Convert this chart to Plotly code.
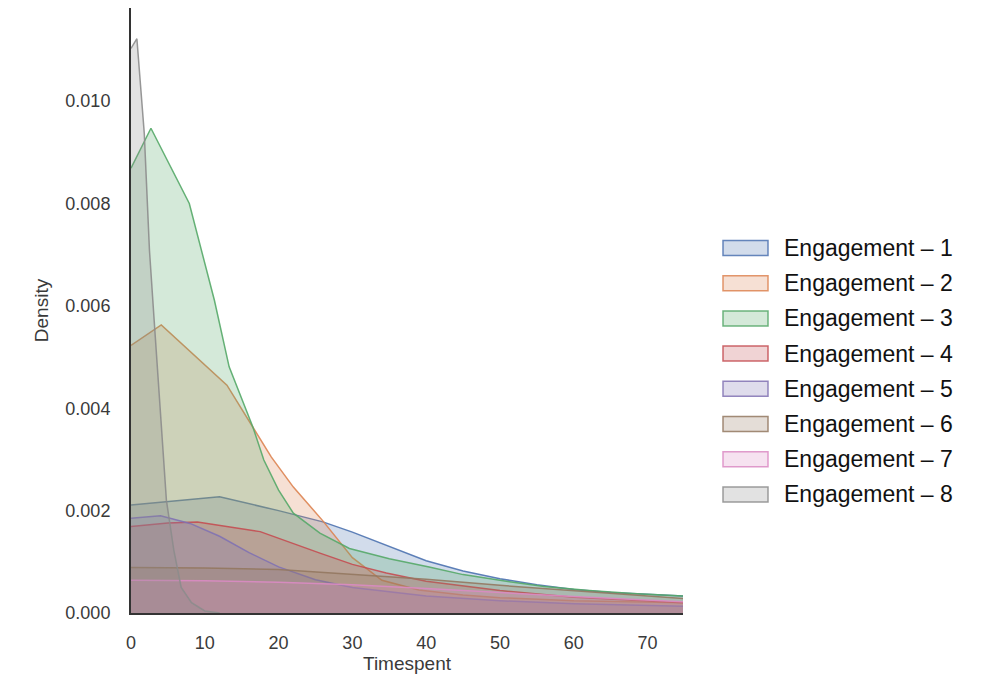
import plotly.graph_objects as go

# ---------------- data ----------------
series_names = [f"Engagement – {i}" for i in range(1, 9)]

x1 = [0, 6, 12, 20, 26, 30, 35, 40, 45, 50, 55, 60, 65, 70, 75]
y1 = [0.00211, 0.00219, 0.00227, 0.00200, 0.00178, 0.00158, 0.00130, 0.00102, 0.00082, 0.00067, 0.00055, 0.00046, 0.00040, 0.00036, 0.00033]

x2 = [0, 4.1, 13, 16.5, 19, 22, 26, 30, 34, 39, 45, 50, 60, 75]
y2 = [0.00523, 0.00563, 0.00445, 0.00364, 0.00305, 0.00246, 0.00180, 0.00108, 0.00064, 0.00045, 0.00035, 0.00030, 0.00024, 0.00020]

x3 = [0, 2.7, 7.9, 9.5, 11.3, 13.3, 16.5, 18, 20, 22, 25.6, 29.6, 35, 40.4, 45, 51.3, 56, 62.1, 68, 75]
y3 = [0.00869, 0.00947, 0.00800, 0.00709, 0.00611, 0.00481, 0.00364, 0.00299, 0.00240, 0.00195, 0.00156, 0.00126, 0.00106, 0.00090, 0.00075, 0.00061, 0.00052, 0.00044, 0.00038, 0.00033]

x4 = [0, 5, 9, 17.5, 25.6, 30, 34.6, 40, 50, 60, 75]
y4 = [0.00169, 0.00176, 0.00178, 0.00159, 0.00117, 0.00095, 0.00078, 0.00062, 0.00044, 0.00031, 0.00020]

x5 = [0, 4, 8, 12, 16, 20, 25, 30, 40, 50, 60, 75]
y5 = [0.00185, 0.00190, 0.00175, 0.00150, 0.00118, 0.00090, 0.00065, 0.00050, 0.00033, 0.00024, 0.00018, 0.00013]

x6 = [0, 10, 20, 30, 40, 50, 60, 75]
y6 = [0.00089, 0.00088, 0.00085, 0.00076, 0.00066, 0.00054, 0.00043, 0.00028]

x7 = [0, 10, 20, 30, 40, 50, 60, 75]
y7 = [0.00064, 0.00063, 0.00060, 0.00055, 0.00048, 0.00040, 0.00032, 0.00022]

x8 = [0, 0.8, 1.8, 2.5, 3.1, 3.9, 4.8, 5.8, 6.8, 8.2, 10, 12]
y8 = [0.01103, 0.01122, 0.00937, 0.00709, 0.00580, 0.00416, 0.00220, 0.00123, 0.00050, 0.00020, 0.00004, 0.0]

xs = [x1, x2, x3, x4, x5, x6, x7, x8]
ys = [y1, y2, y3, y4, y5, y6, y7, y8]

x_ticks = [0, 10, 20, 30, 40, 50, 60, 70]
y_ticks = [0.000, 0.002, 0.004, 0.006, 0.008, 0.010]

# ---------------- styling ----------------
colors = ["#4C72B0", "#DD8452", "#55A868", "#C44E52",
          "#8172B3", "#937860", "#DA8BC3", "#8C8C8C"]

def rgba(hex_color, a):
    h = hex_color.lstrip("#")
    r, g, b = int(h[0:2], 16), int(h[2:4], 16), int(h[4:6], 16)
    return f"rgba({r},{g},{b},{a})"

W, H = 987, 682
L, R, T, B = 131, 304, 8, 69
PW, PH = W - L - R, H - T - B

fig = go.Figure()
for name, x, y, c in zip(series_names, xs, ys, colors):
    fig.add_trace(go.Scatter(
        x=x, y=y, name=name, mode="lines", fill="tozeroy",
        line=dict(color=rgba(c, 0.9), width=1.5),
        fillcolor=rgba(c, 0.25), showlegend=False,
        hoverinfo="x+y+name",
    ))

font_family = "Liberation Sans, Arial, sans-serif"

fig.update_layout(
    width=W, height=H,
    margin=dict(l=L, r=R, t=T, b=B, pad=0),
    paper_bgcolor="white", plot_bgcolor="white",
    font=dict(family=font_family, color="#3a3a3a"),
    xaxis=dict(
        range=[0, 74.8], tickvals=x_ticks, ticktext=[str(v) for v in x_ticks],
        showgrid=False, zeroline=False, showline=True, linecolor="#333333", linewidth=2,
        ticks="", ticklabelstandoff=12, tickfont=dict(size=18),
        title=dict(text="Timespent", font=dict(size=19), standoff=3),
    ),
    yaxis=dict(
        range=[0, 0.01182], tickvals=y_ticks, ticktext=[f"{v:.3f}" for v in y_ticks],
        showgrid=False, zeroline=False, showline=True, linecolor="#333333", linewidth=2,
        ticks="", ticklabelstandoff=15, tickfont=dict(size=18),
        title=dict(text="Density", font=dict(size=19), standoff=12),
    ),
)

# ---------------- legend drawn as shapes + text ----------------
leg_x0_px, leg_x1_px = 723, 768
leg_text_px = 782
leg_y0_px = 248
leg_step_px = 35.2
patch_h = 15

def px_to_paper_x(px):
    return (px - L) / PW

def px_to_paper_y(py):
    return (T + PH - py) / PH

for i, (name, c) in enumerate(zip(series_names, colors)):
    cy = leg_y0_px + i * leg_step_px
    fig.add_shape(
        type="rect", xref="paper", yref="paper",
        x0=px_to_paper_x(leg_x0_px), x1=px_to_paper_x(leg_x1_px),
        y0=px_to_paper_y(cy - patch_h / 2), y1=px_to_paper_y(cy + patch_h / 2),
        line=dict(color=rgba(c, 0.85), width=1.5), fillcolor=rgba(c, 0.25),
    )
    fig.add_annotation(
        xref="paper", yref="paper", x=px_to_paper_x(leg_text_px), y=px_to_paper_y(cy),
        text=name, showarrow=False, xanchor="left", yanchor="middle",
        font=dict(size=23, color="#111111", family=font_family),
    )

fig.write_html("out.html")
